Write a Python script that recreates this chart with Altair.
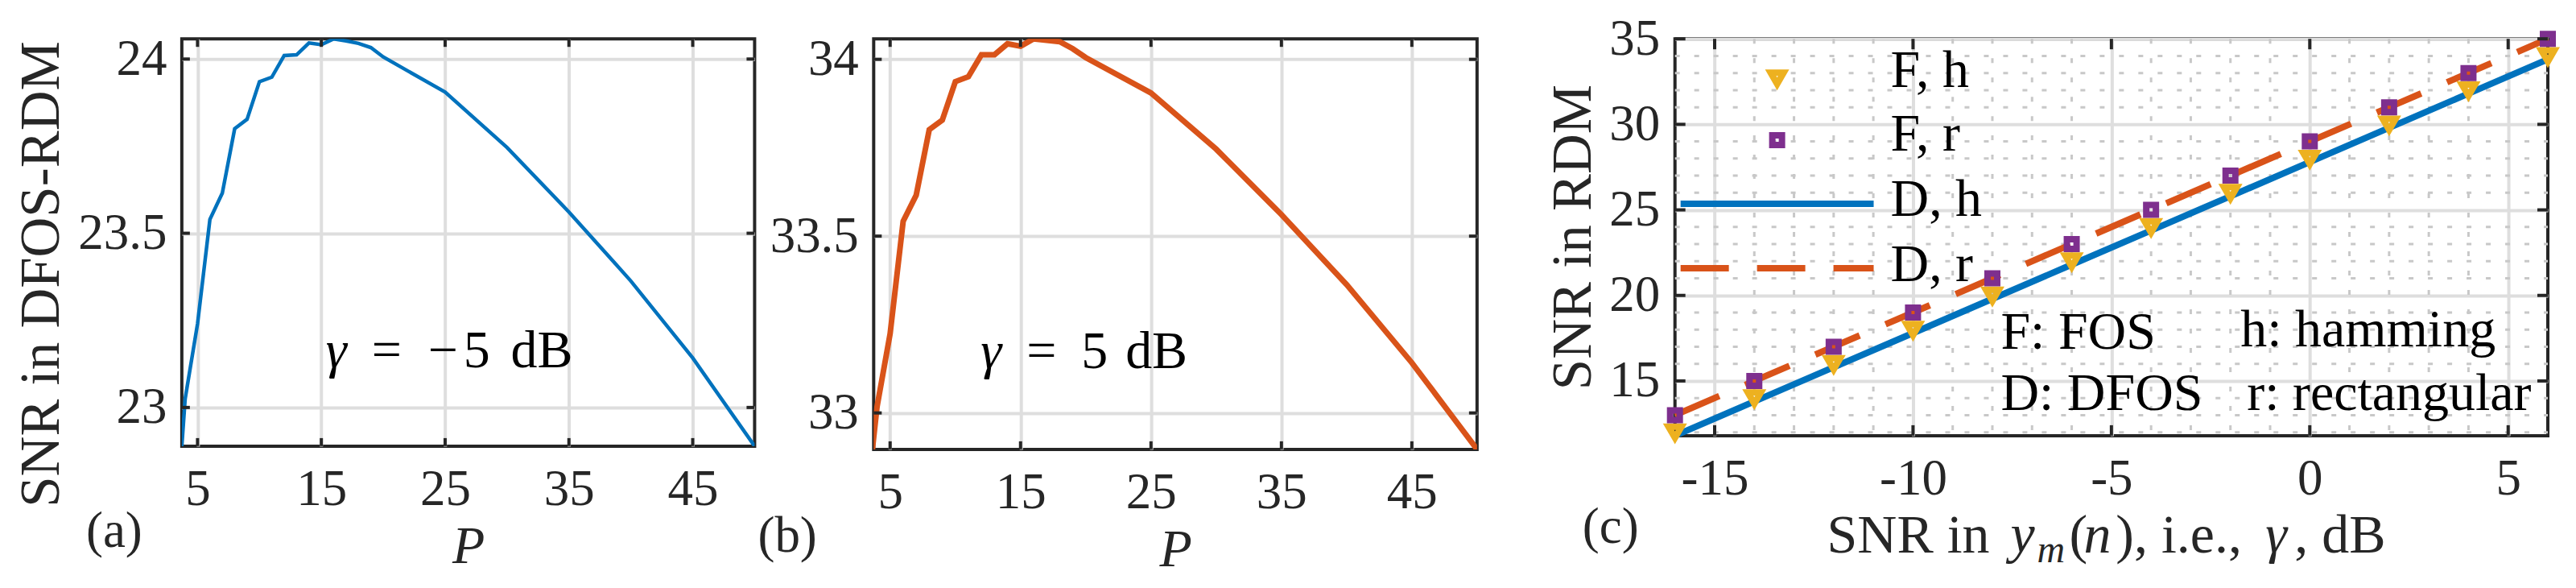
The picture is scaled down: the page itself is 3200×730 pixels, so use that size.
import altair as alt
import pandas as pd

FONT = "Liberation Serif"
AX = "#262626"
GRID = "#dedede"
MINOR = "#c8c8c8"
BLUE = "#0072BD"
ORANGE = "#D95319"
YELLOW = "#EDB120"
PURPLE = "#7E2F8E"

# ---------------- data ----------------
P = [3, 4, 5, 6, 7, 8, 9, 10, 11, 12, 13, 14, 15, 16, 17, 18, 19, 20, 25, 30, 35, 40, 45, 50]
snr_a = [22.52, 23.025, 23.24, 23.54, 23.615, 23.80, 23.827, 23.935, 23.948, 24.010, 24.012, 24.046,
         24.041, 24.058, 24.052, 24.045, 24.033, 24.006, 23.905, 23.746, 23.561, 23.363, 23.142, 22.889]
snr_b = [32.68, 33.018, 33.224, 33.542, 33.616, 33.801, 33.828, 33.937, 33.951, 34.013, 34.013, 34.044,
         34.037, 34.058, 34.054, 34.050, 34.030, 34.005, 33.905, 33.746, 33.561, 33.363, 33.142, 32.897]
a_xticks = [5, 15, 25, 35, 45]
a_yticks = [23, 23.5, 24]
b_yticks = [33, 33.5, 34]

gamma = [-16, -14, -12, -10, -8, -6, -4, -2, 0, 2, 4, 6]
F_h = [12, 14, 16, 18, 20, 22, 24, 26, 28, 30, 32, 34]
F_r = [13, 15, 17, 19, 21, 23, 25, 27, 29, 31, 33, 35]
D_h = [11.8, 13.8, 15.8, 17.8, 19.8, 21.8, 23.8, 25.8, 27.8, 29.8, 31.8, 33.8]
D_r = [13.0, 15.0, 17.0, 19.0, 21.0, 23.0, 25.0, 27.0, 29.0, 31.0, 33.0, 35.0]
c_xticks = [-15, -10, -5, 0, 5]
c_yticks = [15, 20, 25, 30, 35]
c_xminor = [-14, -13, -12, -11, -9, -8, -7, -6, -4, -3, -2, -1, 1, 2, 3, 4]
c_yminor = [12, 13, 14, 16, 17, 18, 19, 21, 22, 23, 24, 26, 27, 28, 29, 31, 32, 33, 34]

ONE = pd.DataFrame({"k": [0]})


def xaxis(values, title, title_y, size=66, italic=False):
    kw = dict(values=values, grid=True, gridColor=GRID, gridWidth=4, domain=False, ticks=False,
              tickSize=0, labelFont=FONT, labelFontSize=63, labelColor=AX, labelPadding=73,
              labelBaseline="alphabetic", labelFlush=False, labelOverlap=False,
              labelExpr="datum.value + ''")
    if title is None:
        kw["title"] = None
    else:
        kw.update(title=title, titleFont=FONT, titleFontSize=size, titleColor=AX,
                  titleFontWeight="normal", titleFontStyle="italic" if italic else "normal",
                  titleY=title_y, titleBaseline="alphabetic")
    return alt.Axis(**kw)


def yaxis(values, title, title_x, title_y, size=69):
    kw = dict(values=values, grid=True, gridColor=GRID, gridWidth=4, domain=False, ticks=False,
              tickSize=0, labelFont=FONT, labelFontSize=63, labelColor=AX, labelPadding=19,
              labelBaseline="middle", labelOverlap=False, labelExpr="datum.value + ''")
    if title is None:
        kw["title"] = None
    else:
        kw.update(title=title, titleFont=FONT, titleFontSize=size, titleColor=AX,
                  titleFontWeight="normal", titleX=title_x, titleY=title_y, titleAngle=270,
                  titleAlign="center", titleBaseline="alphabetic")
    return alt.Axis(**kw)


def inner_ticks(xs, ys, xax, yax, xt, yt, w, h, L):
    dx = pd.DataFrame({"t": xt})
    dy = pd.DataFrame({"t": yt})
    rule = dict(color=AX, strokeWidth=4)
    return [
        alt.Chart(dx).mark_rule(**rule).encode(x=alt.X("t:Q", scale=xs, axis=xax),
                                               y=alt.value(h), y2=alt.value(h - L)),
        alt.Chart(dx).mark_rule(**rule).encode(x=alt.X("t:Q", scale=xs, axis=xax),
                                               y=alt.value(0), y2=alt.value(L)),
        alt.Chart(dy).mark_rule(**rule).encode(y=alt.Y("t:Q", scale=ys, axis=yax),
                                               x=alt.value(0), x2=alt.value(L)),
        alt.Chart(dy).mark_rule(**rule).encode(y=alt.Y("t:Q", scale=ys, axis=yax),
                                               x=alt.value(w), x2=alt.value(w - L)),
    ]


def txt(text, x, y, size=66, style="normal", color="#000000", align="left"):
    return alt.Chart(ONE).mark_text(text=text, font=FONT, fontSize=size, fontStyle=style,
                                    color=color, align=align, baseline="alphabetic").encode(
        x=alt.value(x), y=alt.value(y))


FRAME = alt.ViewBackground(stroke=AX, strokeWidth=4, strokeOpacity=1)

# ---------------- panel (a) ----------------
WA, HA = 712, 506
xs_a = alt.Scale(domain=[3.73, 50], nice=False, zero=False)
ys_a = alt.Scale(domain=[22.889, 24.058], nice=False, zero=False)
XA = xaxis(a_xticks, "P", 145, size=66, italic=True)
YA = yaxis(a_yticks, "SNR in DFOS-RDM", -153, 292)
df_a = pd.DataFrame({"P": P, "snr": snr_a})
line_a = alt.Chart(df_a).mark_line(color=BLUE, strokeWidth=4.5, clip=True).encode(
    x=alt.X("P:Q", scale=xs_a, axis=XA),
    y=alt.Y("snr:Q", scale=ys_a, axis=YA))
anchor = alt.Chart(ONE).mark_rule(opacity=0, strokeWidth=1).encode(
    x=alt.value(-215.5), x2=alt.value(-215.5), y=alt.value(-37.5), y2=alt.value(-37))
panel_a = alt.layer(
    line_a, *inner_ticks(xs_a, ys_a, XA, YA, a_xticks, a_yticks, WA, HA, 10),
    txt("(a)", -119, 631, size=63, color=AX),
    txt("γ", 179, 408, style="italic"),
    txt("=", 236, 408),
    txt("−", 306, 408),
    txt("5", 350, 408),
    txt("dB", 409, 408),
    anchor,
).properties(width=WA, height=HA, view=FRAME)

# ---------------- panel (b) ----------------
WB, HB = 750, 510
xs_b = alt.Scale(domain=[3.74, 50], nice=False, zero=False)
ys_b = alt.Scale(domain=[32.897, 34.058], nice=False, zero=False)
XB = xaxis(a_xticks, "P", 145, size=66, italic=True)
YB = yaxis(b_yticks, None, 0, 0)
df_b = pd.DataFrame({"P": P, "snr": snr_b})
line_b = alt.Chart(df_b).mark_line(color=ORANGE, strokeWidth=7, clip=True).encode(
    x=alt.X("P:Q", scale=xs_b, axis=XB),
    y=alt.Y("snr:Q", scale=ys_b, axis=YB))
panel_b = alt.layer(
    line_b, *inner_ticks(xs_b, ys_b, XB, YB, a_xticks, b_yticks, WB, HB, 10),
    txt("(b)", -144, 637, size=63, color=AX),
    txt("γ", 133, 409, style="italic"),
    txt("=", 190, 409),
    txt("5", 258, 409),
    txt("dB", 313, 409),
).properties(width=WB, height=HB, view=FRAME)

# ---------------- panel (c) ----------------
WC, HC = 1085, 493
xs_c = alt.Scale(domain=[-16, 6], nice=False, zero=False)
ys_c = alt.Scale(domain=[11.8, 35], nice=False, zero=False)
XC = xaxis(c_xticks, None, 0)
YC = yaxis(c_yticks, "SNR in RDM", -105, 246)
df_c = pd.DataFrame({"g": gamma, "Fh": F_h, "Fr": F_r, "Dh": D_h, "Dr": D_r})
minor_x = alt.Chart(pd.DataFrame({"t": c_xminor})).mark_rule(
    color=MINOR, strokeWidth=3, strokeDash=[6, 18]).encode(
    x=alt.X("t:Q", scale=xs_c, axis=XC), y=alt.value(0), y2=alt.value(HC))
minor_y = alt.Chart(pd.DataFrame({"t": c_yminor})).mark_rule(
    color=MINOR, strokeWidth=3, strokeDash=[6, 18]).encode(
    y=alt.Y("t:Q", scale=ys_c, axis=YC), x=alt.value(0), x2=alt.value(WC))
base_c = alt.Chart(df_c).encode(x=alt.X("g:Q", scale=xs_c, axis=XC))
line_dh = base_c.mark_line(color=BLUE, strokeWidth=8).encode(
    y=alt.Y("Dh:Q", scale=ys_c, axis=YC))
line_dr = base_c.mark_line(color=ORANGE, strokeWidth=8, strokeDash=[60, 35]).encode(
    y=alt.Y("Dr:Q", scale=ys_c, axis=YC))
pts_fh = base_c.mark_point(shape="triangle-down", size=260, filled=False, color=YELLOW,
                           strokeWidth=8, opacity=1, strokeJoin="miter").encode(
    y=alt.Y("Fh:Q", scale=ys_c, axis=YC))
pts_fr = base_c.mark_point(shape="square", size=144, filled=False, color=PURPLE,
                           strokeWidth=8, opacity=1, strokeJoin="miter").encode(
    y=alt.Y("Fr:Q", scale=ys_c, axis=YC))

leg_fh = alt.Chart(ONE).mark_point(shape="triangle-down", size=260, filled=False, color=YELLOW,
                                   strokeWidth=8, opacity=1, strokeJoin="miter").encode(
    x=alt.value(127), y=alt.value(49))
leg_fr = alt.Chart(ONE).mark_point(shape="square", size=144, filled=False, color=PURPLE,
                                   strokeWidth=8, opacity=1, strokeJoin="miter").encode(
    x=alt.value(127), y=alt.value(126))
leg_dh = alt.Chart(ONE).mark_rule(color=BLUE, strokeWidth=8).encode(
    x=alt.value(7), x2=alt.value(247), y=alt.value(205))
leg_dr = alt.Chart(ONE).mark_rule(color=ORANGE, strokeWidth=8, strokeDash=[60, 35]).encode(
    x=alt.value(7), x2=alt.value(247), y=alt.value(285))

XT_Y = 638
panel_c = alt.layer(
    minor_x, minor_y, line_dh, line_dr, pts_fh, pts_fr,
    *inner_ticks(xs_c, ys_c, XC, YC, c_xticks, c_yticks, WC, HC, 13),
    leg_fh, leg_fr, leg_dh, leg_dr,
    txt("F, h", 268, 60), txt("F, r", 268, 139), txt("D, h", 268, 220), txt("D, r", 268, 301),
    txt("F: FOS", 405, 385), txt("h: hamming", 703, 382),
    txt("D: DFOS", 405, 461), txt("r: rectangular", 711, 461),
    txt("(c)", -115, 626, size=63, color=AX),
    txt("SNR in", 189, XT_Y, size=68, color=AX),
    txt("y", 417, XT_Y, size=68, style="italic", color=AX),
    txt("m", 450, XT_Y + 12, size=48, style="italic", color=AX),
    txt("(", 490, XT_Y, size=68, color=AX),
    txt("n", 508, XT_Y, size=68, style="italic", color=AX),
    txt("), i.e.,", 548, XT_Y, size=68, color=AX),
    txt("γ", 734, XT_Y, size=68, style="italic", color=AX),
    txt(", dB", 770, XT_Y, size=68, color=AX),
).properties(width=WC, height=HC, view=FRAME)


def spacer(w):
    return alt.Chart(ONE).mark_point(opacity=0).encode(x=alt.value(0), y=alt.value(0)).properties(
        width=w, height=10, view=alt.ViewBackground(strokeOpacity=0))


chart = alt.hconcat(panel_a, spacer(148), panel_b, spacer(246), panel_c,
                    spacing=0, bounds="flush").properties(padding=0).configure_view(
    strokeOpacity=0).configure(background="white")

chart.save("out.html", embed_options={"renderer": "svg", "actions": False})
